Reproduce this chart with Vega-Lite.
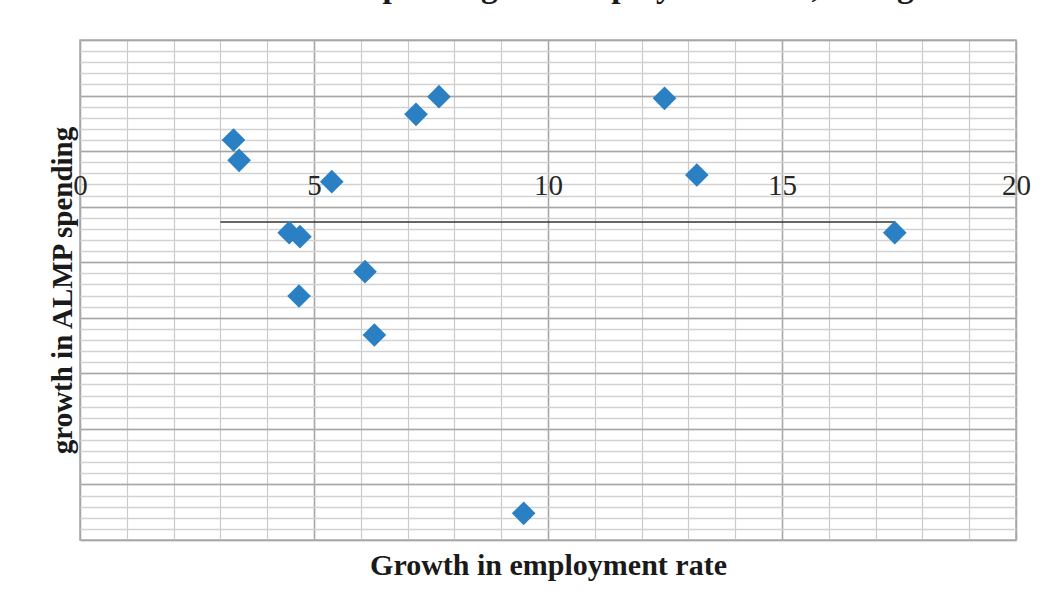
{
  "$schema": "https://vega.github.io/schema/vega-lite/v6.json",
  "width": 936,
  "height": 500,
  "autosize": "none",
  "padding": {"left": 80, "top": 40, "right": 33, "bottom": 66},
  "background": "white",
  "title": {
    "text": "Growth in ALMP spending and employment rate, changes",
    "font": "Liberation Serif",
    "fontSize": 33.5,
    "fontWeight": "bold",
    "color": "#1a1a1a",
    "anchor": "middle",
    "baseline": "alphabetic",
    "offset": 10,
    "dx": -22
  },
  "config": {
    "view": {"stroke": "#a6a6a6", "strokeWidth": 1.5}
  },
  "resolve": {"axis": {"x": "independent", "y": "independent"}},
  "layer": [
    {
      "data": {"values": [{"x_start": 3.0, "x_end": 17.41, "y_level": -4.38}]},
      "mark": {"type": "rule", "color": "#333333", "strokeWidth": 1.5},
      "encoding": {
        "x": {
          "field": "x_start", "type": "quantitative",
          "scale": {"domain": [0, 20], "nice": false, "zero": false},
          "axis": {
            "orient": "bottom",
            "values": [0,1,2,3,4,5,6,7,8,9,10,11,12,13,14,15,16,17,18,19,20],
            "grid": true, "gridColor": "#cacaca", "gridWidth": 1.2,
            "labels": false, "ticks": false, "domain": false,
            "title": "Growth in employment rate",
            "titleFont": "Liberation Serif", "titleFontSize": 30, "titleFontWeight": "bold",
            "titleColor": "#1a1a1a", "titleBaseline": "alphabetic", "titlePadding": 34
          }
        },
        "x2": {"field": "x_end"},
        "y": {
          "field": "y_level", "type": "quantitative",
          "scale": {"domain": [-33, 12], "nice": false, "zero": false},
          "axis": {
            "orient": "left",
            "values": [-33,-32,-31,-30,-29,-28,-27,-26,-25,-24,-23,-22,-21,-20,-19,-18,-17,-16,-15,-14,-13,-12,-11,-10,-9,-8,-7,-6,-5,-4,-3,-2,-1,0,1,2,3,4,5,6,7,8,9,10,11,12],
            "grid": true, "gridColor": "#d2d2d2", "gridWidth": 1.5,
            "labels": false, "ticks": false, "domain": false,
            "title": "growth in ALMP spending",
            "titleFont": "Liberation Serif", "titleFontSize": 29, "titleFontWeight": "bold",
            "titleColor": "#1a1a1a", "titleBaseline": "alphabetic", "titlePadding": 9
          }
        }
      }
    },
    {
      "data": {"values": [
        {"employment_growth": 3.28, "almp_growth": 3.0},
        {"employment_growth": 3.40, "almp_growth": 1.17},
        {"employment_growth": 5.38, "almp_growth": -0.75},
        {"employment_growth": 7.18, "almp_growth": 5.31},
        {"employment_growth": 7.67, "almp_growth": 6.90},
        {"employment_growth": 4.47, "almp_growth": -5.34},
        {"employment_growth": 4.70, "almp_growth": -5.70},
        {"employment_growth": 6.09, "almp_growth": -8.85},
        {"employment_growth": 4.68, "almp_growth": -11.04},
        {"employment_growth": 6.29, "almp_growth": -14.55},
        {"employment_growth": 12.49, "almp_growth": 6.75},
        {"employment_growth": 13.18, "almp_growth": -0.15},
        {"employment_growth": 9.48, "almp_growth": -30.6},
        {"employment_growth": 17.41, "almp_growth": -5.34}
      ]},
      "mark": {"type": "point", "shape": "diamond", "filled": true, "size": 560, "color": "#2a80c2", "opacity": 1},
      "encoding": {
        "x": {
          "field": "employment_growth", "type": "quantitative",
          "scale": {"domain": [0, 20], "nice": false, "zero": false},
          "axis": {
            "orient": "top", "offset": -154,
            "values": [0, 5, 10, 15, 20],
            "grid": true, "gridColor": "#a6a6a6", "gridWidth": 1.5,
            "ticks": false, "domain": false, "tickSize": 0,
            "labelFont": "Liberation Serif", "labelFontSize": 29, "labelColor": "#262626",
            "labelBaseline": "alphabetic", "labelPadding": 0,
            "labelFlush": false, "labelOverlap": false, "labelBound": false,
            "title": null
          }
        },
        "y": {
          "field": "almp_growth", "type": "quantitative",
          "scale": {"domain": [-33, 12], "nice": false, "zero": false},
          "axis": {
            "orient": "right",
            "values": [-33, -28, -23, -18, -13, -8, -3, 2, 7, 12],
            "grid": true, "gridColor": "#a6a6a6", "gridWidth": 1.5,
            "labels": false, "ticks": false, "domain": false,
            "title": null
          }
        }
      }
    }
  ]
}
